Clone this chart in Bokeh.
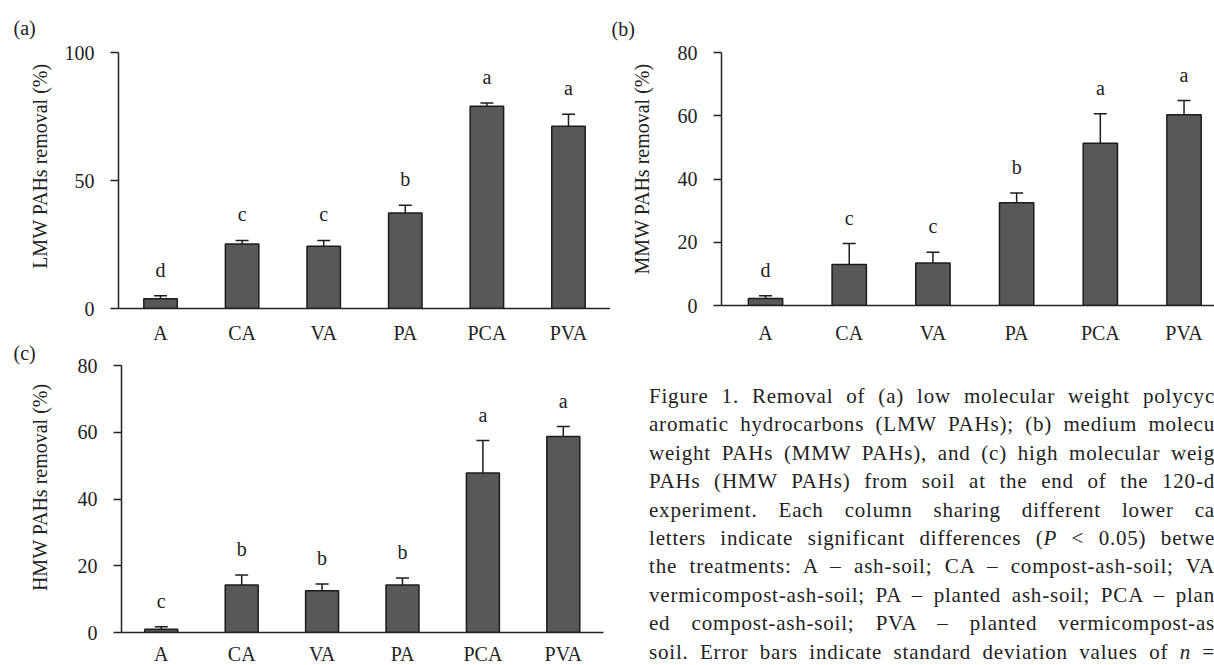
from bokeh.plotting import figure
from bokeh.models import (ColumnDataSource, Range1d, FixedTicker, Whisker, TeeHead,
                          LabelSet, Div, Title)
from bokeh.layouts import column, row
from bokeh.embed import file_html
from bokeh.resources import INLINE

# ---------------- data ----------------
categories = ["A", "CA", "VA", "PA", "PCA", "PVA"]

lmw_mean = [3.8, 25.2, 24.3, 37.3, 79.0, 71.2]
lmw_sd = [1.2, 1.4, 2.3, 3.0, 1.3, 4.7]
lmw_letters = ["d", "c", "c", "b", "a", "a"]

mmw_mean = [2.2, 13.0, 13.4, 32.5, 51.3, 60.3]
mmw_sd = [0.85, 6.6, 3.4, 3.1, 9.3, 4.5]
mmw_letters = ["d", "c", "c", "b", "a", "a"]

hmw_mean = [1.0, 14.2, 12.5, 14.2, 47.8, 58.7]
hmw_sd = [0.7, 3.0, 2.0, 2.1, 9.7, 3.0]
hmw_letters = ["c", "b", "b", "b", "a", "a"]

lmw_ticks = [0, 50, 100]
mmw_ticks = [0, 20, 40, 60, 80]
hmw_ticks = [0, 20, 40, 60, 80]

caption_lines = [
    "Figure 1. Removal of (a) low molecular weight polycyc",
    "aromatic hydrocarbons (LMW PAHs); (b) medium molecu",
    "weight PAHs (MMW PAHs), and (c) high molecular weig",
    "PAHs (HMW PAHs) from soil at the end of the 120-d",
    "experiment. Each column sharing different lower ca",
    "letters indicate significant differences (<i>P</i> &lt; 0.05) betwe",
    "the treatments: A \u2013 ash-soil; CA \u2013 compost-ash-soil; VA",
    "vermicompost-ash-soil; PA \u2013 planted ash-soil; PCA \u2013 plan",
    "ed compost-ash-soil; PVA \u2013 planted vermicompost-as",
    "soil. Error bars indicate standard deviation values of <i>n</i> =",
]

FONT = "Liberation Serif"
INK = "#222222"


def panel(tag, ylabel, means, sds, letters, yticks, ymax, xr, frame_w, frame_h,
          b_left, b_right, b_top, b_bottom, x_standoff, ytitle_offset, ytitle_standoff,
          tag_offset, tag_standoff):
    xs = list(range(len(categories)))
    tops = [m + s for m, s in zip(means, sds)]
    src = ColumnDataSource(dict(x=xs, cat=categories, mean=means, sd=sds,
                                top=tops, letter=letters))
    p = figure(frame_width=frame_w, frame_height=frame_h,
               x_range=Range1d(*xr), y_range=Range1d(0, ymax),
               output_backend="svg", toolbar_location=None,
               min_border_left=b_left, min_border_right=b_right,
               min_border_top=b_top, min_border_bottom=b_bottom,
               title=tag)
    p.outline_line_color = None
    p.xgrid.visible = False
    p.ygrid.visible = False
    p.background_fill_color = None
    p.border_fill_color = None

    p.title.align = "left"
    p.title.vertical_align = "top"
    p.title.offset = tag_offset
    p.title.standoff = tag_standoff
    p.title.text_font = FONT
    p.title.text_font_size = "20px"
    p.title.text_font_style = "normal"
    p.title.text_color = INK

    p.vbar(x="x", width=0.41, top="mean", bottom=0, source=src,
           fill_color="#585858", line_color="#1c1c1c", line_width=1.5)
    p.add_layout(Whisker(source=src, base="x", upper="top", lower="mean",
                         line_color="#1c1c1c", line_width=1.5,
                         upper_head=TeeHead(size=13, line_color="#1c1c1c", line_width=1.5),
                         lower_head=None))
    p.add_layout(LabelSet(source=src, x="x", y="top", text="letter", y_offset=26,
                          text_align="center", text_baseline="middle",
                          text_font=FONT, text_font_size="20px", text_color=INK))

    xa = p.xaxis[0]
    xa.ticker = FixedTicker(ticks=xs, minor_ticks=[])
    xa.major_label_overrides = {i: c for i, c in enumerate(categories)}
    xa.major_tick_out = 0
    xa.major_tick_in = 0
    xa.major_tick_line_color = None
    xa.minor_tick_line_color = None
    xa.axis_line_color = INK
    xa.axis_line_width = 1.5
    xa.major_label_standoff = x_standoff
    xa.major_label_text_font = FONT
    xa.major_label_text_font_size = "20px"
    xa.major_label_text_color = INK

    ya = p.yaxis[0]
    ya.ticker = FixedTicker(ticks=yticks, minor_ticks=[])
    ya.major_tick_out = 8
    ya.major_tick_in = 0
    ya.major_tick_line_color = INK
    ya.major_tick_line_width = 1.5
    ya.minor_tick_line_color = None
    ya.axis_line_color = INK
    ya.axis_line_width = 1.5
    ya.major_label_standoff = 16
    ya.major_label_text_font = FONT
    ya.major_label_text_font_size = "20px"
    ya.major_label_text_color = INK

    p.add_layout(Title(text=ylabel, align="right", vertical_align="top",
                       offset=ytitle_offset, standoff=ytitle_standoff,
                       text_font=FONT, text_font_size="20px", text_font_style="normal",
                       text_color=INK), "left")
    return p


fa = panel("(a)", "LMW PAHs removal (%)", lmw_mean, lmw_sd, lmw_letters, lmw_ticks, 100,
           (-0.515, 5.515), 492, 256, 118, 0, 52, 38, 13, 11, 18, -105, 24)
fb = panel("(b)", "MMW PAHs removal (%)", mmw_mean, mmw_sd, mmw_letters, mmw_ticks, 80,
           (-0.526, 5.364), 493, 253, 111, 0, 52, 41, 16, 11, 40, -110, 22)
fc = panel("(c)", "HMW PAHs removal (%)", hmw_mean, hmw_sd, hmw_letters, hmw_ticks, 80,
           (-0.495, 5.5), 482, 267, 121, 7, 27, 33, 10, 18, 44, -108, 0)

line_divs = "".join(
    '<div style="width:566px;height:28.4px;line-height:28.4px;white-space:nowrap;'
    'overflow:hidden;text-align:justify;text-align-last:justify;letter-spacing:0.8px;">'
    + ln + "</div>" for ln in caption_lines)
caption_html = ('<div style="width:604px;height:327px;overflow:hidden;box-sizing:border-box;'
                'padding-top:39px;padding-left:34px;font-family:\'Liberation Serif\';'
                'font-size:21px;color:#222222;">' + line_divs + "</div>")
cap = Div(text=caption_html, width=604, height=327, styles={"overflow": "hidden"})

layout = column(row(fa, fb), row(fc, cap, margin=(-8, 0, 0, 0)))

open("out.html", "w").write(file_html(layout, INLINE))
